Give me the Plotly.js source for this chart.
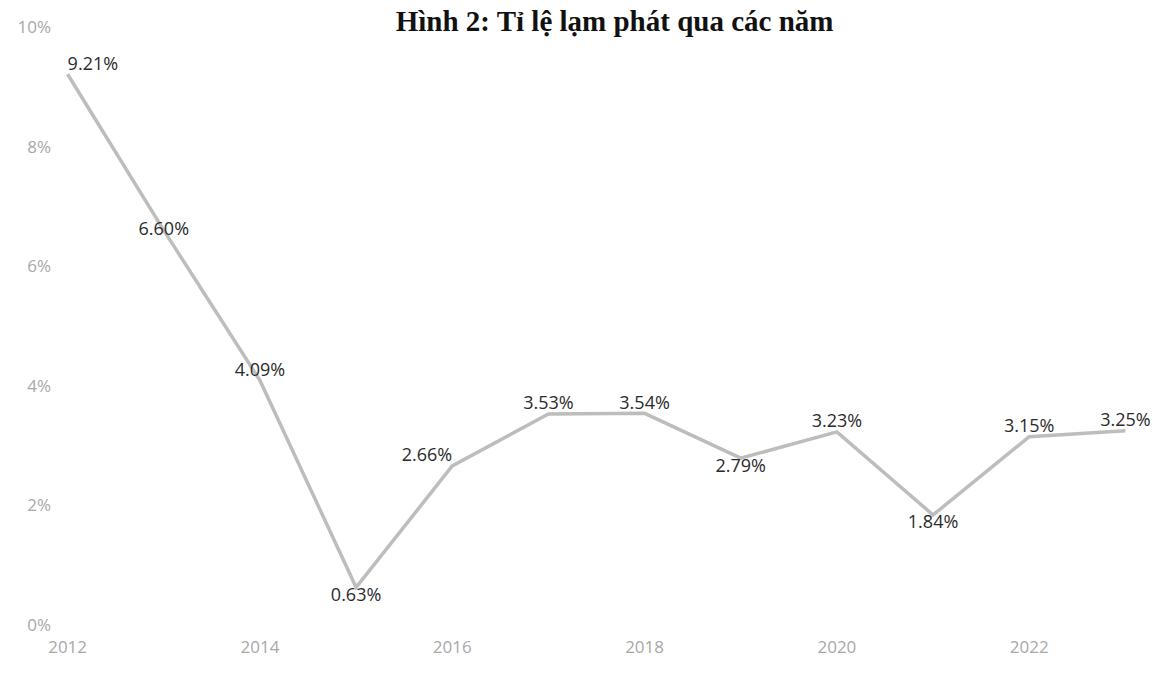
<!DOCTYPE html>
<html><head><meta charset="utf-8">
<script src="https://cdn.plot.ly/plotly-3.0.1.min.js"></script>
<style>body{margin:0;background:#fff}#c{width:1153px;height:675px}</style>
</head><body><div id="c"></div>
<script>
const years = [2012, 2013, 2014, 2015, 2016, 2017, 2018, 2019, 2020, 2021, 2022, 2023];
const inflation = [9.21, 6.60, 4.09, 0.63, 2.66, 3.53, 3.54, 2.79, 3.23, 1.84, 3.15, 3.25];
const xTicks = [2012, 2014, 2016, 2018, 2020, 2022];
const yTicks = [0, 2, 4, 6, 8, 10];
const titleText = 'Hình 2: Tỉ lệ lạm phát qua các năm';

const labelPos = ['top right', 'middle center', 'top center', 'bottom center', 'top left', 'top center',
  'top center', 'bottom center', 'top center', 'bottom center', 'top center', 'top center'];

const trace = {
  x: years, y: inflation, type: 'scatter', mode: 'lines+text',
  line: {color: '#bdbdbd', width: 3.5},
  text: inflation.map(v => v.toFixed(2) + '%'),
  textposition: labelPos,
  textfont: {family: 'Open Sans, sans-serif', size: 18, color: '#2b2b2b'},
  cliponaxis: false, hoverinfo: 'skip'
};

const layout = {
  width: 1153, height: 675,
  margin: {l: 58, r: 18, t: 27, b: 50},
  paper_bgcolor: '#ffffff', plot_bgcolor: '#ffffff',
  title: {text: '<b>' + titleText + '</b>', font: {family: 'Liberation Serif, serif', size: 29, color: '#111'},
    x: 0.533, xanchor: 'center', y: 0.984, yref: 'container', yanchor: 'top', pad: {t: 0}},
  showlegend: false,
  xaxis: {range: [2011.9, 2023.1], tickvals: xTicks, ticktext: xTicks.map(String),
    showgrid: false, zeroline: false, showline: false, ticks: '', ticklabelstandoff: 10,
    tickfont: {family: 'Open Sans, sans-serif', size: 17, color: '#a8a8a8'}},
  yaxis: {range: [0, 10], tickvals: yTicks, ticktext: yTicks.map(v => v + '%'),
    showgrid: false, zeroline: false, showline: false, ticks: '', ticklabelstandoff: 6,
    tickfont: {family: 'Open Sans, sans-serif', size: 17, color: '#a8a8a8'}}
};

Plotly.newPlot('c', [trace], layout, {displayModeBar: false, staticPlot: true});
</script></body></html>
